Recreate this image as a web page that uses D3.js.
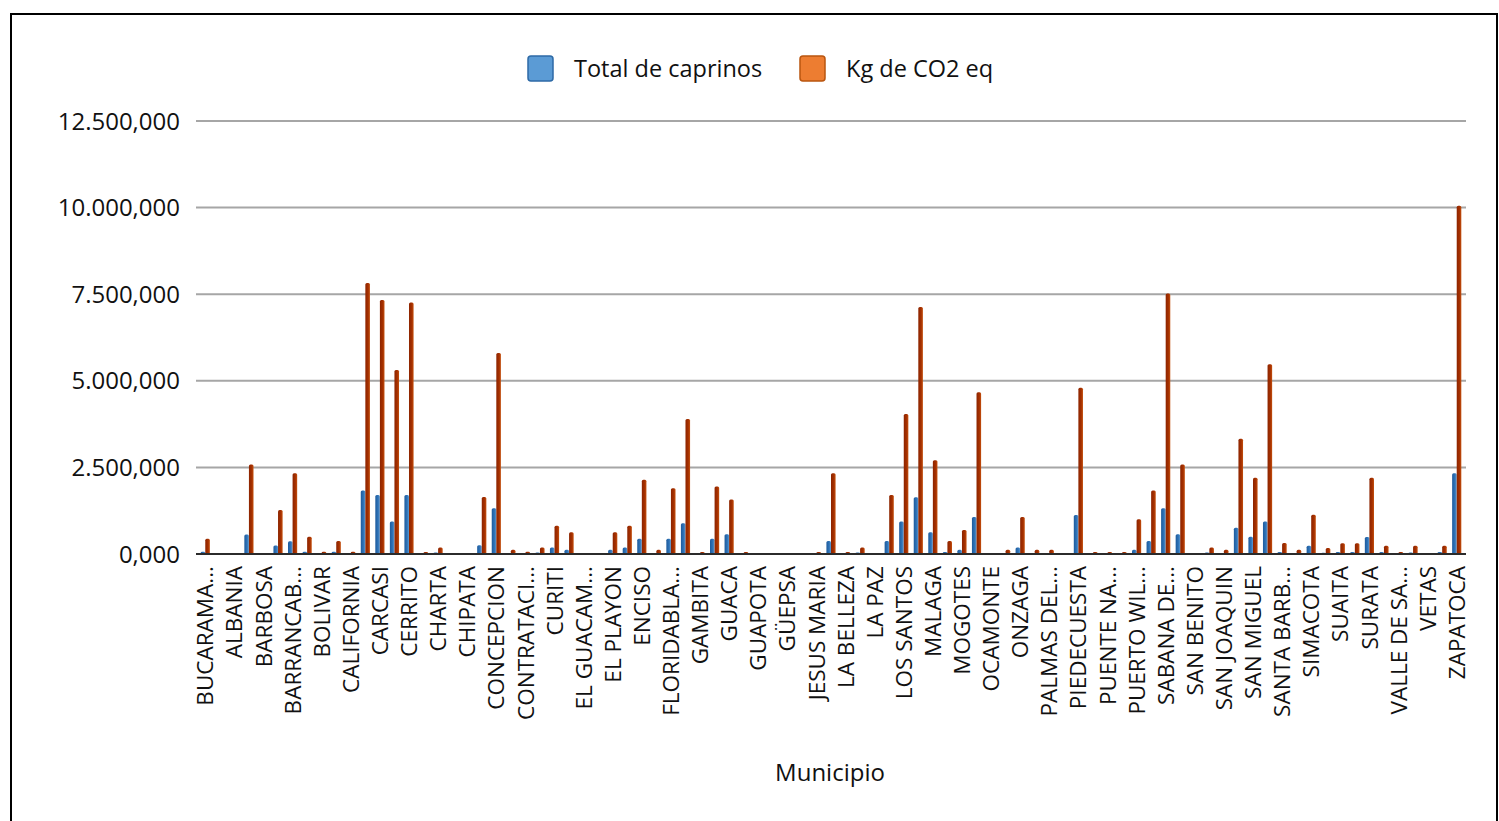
<!DOCTYPE html>
<html lang="es">
<head>
    <meta charset="UTF-8">
    <title>Total de caprinos y Kg de CO2 eq por municipio</title>
    <script src="https://d3js.org/d3.v7.min.js"></script>
    <style>
        body {
            margin: 0;
            background: #fff;
            font-family: "Open Sans", Arial, sans-serif;
        }

        .grid line {
            stroke: #a6a6a6;
            stroke-width: 2;
        }

        .y-label, .x-axis text, .legend text, .axis-title {
            fill: #111;
        }
    </style>
</head>
<body>
    <svg id="chart"></svg>
    <script>
        const categories = [
            "BUCARAMANGA", "AGUADA", "ALBANIA", "ARATOCA", "BARBOSA", "BARICHARA", "BARRANCABERMEJA", "BETULIA",
            "BOLIVAR", "CABRERA", "CALIFORNIA", "CAPITANEJO", "CARCASI", "CEPITA", "CERRITO", "CHARALA",
            "CHARTA", "CHIMA", "CHIPATA", "CIMITARRA", "CONCEPCION", "CONFINES", "CONTRATACION", "COROMORO",
            "CURITI", "EL CARMEN DE CHUCURI", "EL GUACAMAYO", "EL PEÑON", "EL PLAYON", "ENCINO", "ENCISO", "FLORIAN",
            "FLORIDABLANCA", "GALAN", "GAMBITA", "GIRON", "GUACA", "GUADALUPE", "GUAPOTA", "GUAVATA",
            "GÜEPSA", "HATO", "JESUS MARIA", "JORDAN", "LA BELLEZA", "LANDAZURI", "LA PAZ", "LEBRIJA",
            "LOS SANTOS", "MACARAVITA", "MALAGA", "MATANZA", "MOGOTES", "MOLAGAVITA", "OCAMONTE", "OIBA",
            "ONZAGA", "PALMAR", "PALMAS DEL SOCORRO", "PARAMO", "PIEDECUESTA", "PINCHOTE", "PUENTE NACIONAL", "PUERTO PARRA",
            "PUERTO WILCHES", "RIONEGRO", "SABANA DE TORRES", "SAN ANDRES", "SAN BENITO", "SAN GIL", "SAN JOAQUIN", "SAN JOSE DE MIRANDA",
            "SAN MIGUEL", "SAN VICENTE DE CHUCURI", "SANTA BARBARA", "SANTA HELENA DEL OPON", "SIMACOTA", "SOCORRO", "SUAITA", "SUCRE",
            "SURATA", "TONA", "VALLE DE SAN JOSE", "VELEZ", "VETAS", "VILLANUEVA", "ZAPATOCA"
        ];

        // labels shown on the axis (every second municipio)
        const tickLabels = [
            "BUCARAMA...", "ALBANIA", "BARBOSA", "BARRANCAB...", "BOLIVAR", "CALIFORNIA", "CARCASI", "CERRITO",
            "CHARTA", "CHIPATA", "CONCEPCION", "CONTRATACI...", "CURITI", "EL GUACAM...", "EL PLAYON", "ENCISO",
            "FLORIDABLA...", "GAMBITA", "GUACA", "GUAPOTA", "GÜEPSA", "JESUS MARIA", "LA BELLEZA", "LA PAZ",
            "LOS SANTOS", "MALAGA", "MOGOTES", "OCAMONTE", "ONZAGA", "PALMAS DEL...", "PIEDECUESTA", "PUENTE NA...",
            "PUERTO WIL...", "SABANA DE...", "SAN BENITO", "SAN JOAQUIN", "SAN MIGUEL", "SANTA BARB...", "SIMACOTA", "SUAITA",
            "SURATA", "VALLE DE SA...", "VETAS", "ZAPATOCA"
        ];

        const caprinos = [
            67000, 4000, 4000, 562000, 2000, 248000, 371000, 67000,
            12000, 67000, 12000, 1830000, 1700000, 940000, 1700000, 12000,
            40000, 4000, 4000, 250000, 1320000, 25000, 12000, 40000,
            190000, 124000, 2000, 2000, 124000, 190000, 440000, 25000,
            440000, 885000, 12000, 440000, 567000, 12000, 2000, 2000,
            2000, 2000, 12000, 375000, 12000, 40000, 1000, 375000,
            940000, 1640000, 625000, 57000, 124000, 1065000, 1000, 25000,
            190000, 25000, 25000, 1000, 1125000, 12000, 12000, 12000,
            124000, 375000, 1320000, 567000, 0, 40000, 25000, 760000,
            500000, 940000, 57000, 25000, 240000, 35000, 57000, 57000,
            490000, 57000, 12000, 45000, 2000, 57000, 2330000
        ];

        const co2 = [
            440000, 20000, 20000, 2585000, 10000, 1270000, 2330000, 500000,
            67000, 375000, 67000, 7820000, 7330000, 5310000, 7260000, 57000,
            190000, 19000, 19000, 1645000, 5800000, 124000, 67000, 190000,
            818000, 625000, 10000, 10000, 625000, 818000, 2140000, 124000,
            1895000, 3900000, 57000, 1950000, 1575000, 57000, 8000, 8000,
            8000, 8000, 57000, 2330000, 57000, 190000, 5000, 1700000,
            4040000, 7130000, 2710000, 375000, 693000, 4670000, 5000, 124000,
            1067000, 124000, 124000, 5000, 4800000, 57000, 57000, 57000,
            1000000, 1830000, 7520000, 2585000, 0, 190000, 124000, 3330000,
            2200000, 5480000, 317000, 124000, 1130000, 173000, 308000, 308000,
            2200000, 240000, 57000, 240000, 10000, 240000, 10050000
        ];

        const series = ["Total de caprinos", "Kg de CO2 eq"];
        const yTicks = [0, 2500000, 5000000, 7500000, 10000000, 12500000];
        const yTickLabels = ["0,000", "2.500,000", "5.000,000", "7.500,000", "10.000,000", "12.500,000"];

        const W = 1499, H = 821;
        const plot = { left: 196, right: 1466, top: 121, bottom: 554 };

        const svg = d3.select("#chart")
            .attr("width", W)
            .attr("height", H);

        // outer frame
        svg.append("rect")
            .attr("x", 11).attr("y", 14)
            .attr("width", 1486).attr("height", 830)
            .attr("fill", "none")
            .attr("stroke", "#000")
            .attr("stroke-width", 2);

        const defs = svg.append("defs");
        const blueGrad = defs.append("linearGradient").attr("id", "gBlue")
            .attr("x1", "0").attr("x2", "1").attr("y1", "0").attr("y2", "0");
        blueGrad.append("stop").attr("offset", "0%").attr("stop-color", "#1d5a9c");
        blueGrad.append("stop").attr("offset", "60%").attr("stop-color", "#2f74b8");
        blueGrad.append("stop").attr("offset", "100%").attr("stop-color", "#5d9ad3");

        const orangeGrad = defs.append("linearGradient").attr("id", "gOrange")
            .attr("x1", "0").attr("x2", "1").attr("y1", "0").attr("y2", "0");
        orangeGrad.append("stop").attr("offset", "0%").attr("stop-color", "#8c2400");
        orangeGrad.append("stop").attr("offset", "60%").attr("stop-color", "#a53000");
        orangeGrad.append("stop").attr("offset", "100%").attr("stop-color", "#c4500e");

        const x = d3.scaleBand()
            .domain(categories)
            .range([198, 1464])
            .paddingInner(0.37)
            .paddingOuter(0.185);

        const x1 = d3.scaleBand()
            .domain(series)
            .range([0, x.bandwidth()]);

        const y = d3.scaleLinear()
            .domain([0, 12500000])
            .range([plot.bottom, plot.top]);

        // gridlines + y labels
        const grid = svg.append("g").attr("class", "grid");
        grid.selectAll("line")
            .data(yTicks.slice(1))
            .enter()
            .append("line")
            .attr("x1", plot.left)
            .attr("x2", plot.right)
            .attr("y1", d => y(d))
            .attr("y2", d => y(d));

        svg.append("g")
            .selectAll("text")
            .data(yTicks)
            .enter()
            .append("text")
            .attr("class", "y-label")
            .attr("x", 180)
            .attr("y", d => y(d))
            .attr("dy", "0.36em")
            .attr("text-anchor", "end")
            .style("font-size", "24px")
            .text((d, i) => yTickLabels[i]);

        // bars
        const colors = { "Total de caprinos": "url(#gBlue)", "Kg de CO2 eq": "url(#gOrange)" };
        const rows = categories.map((c, i) => ({ name: c, values: [caprinos[i], co2[i]] }));

        const groups = svg.append("g")
            .selectAll("g")
            .data(rows)
            .enter()
            .append("g")
            .attr("transform", d => `translate(${x(d.name)},0)`);

        groups.selectAll("rect")
            .data(d => series.map((s, k) => ({ key: s, value: d.values[k] })))
            .enter()
            .append("rect")
            .attr("x", d => x1(d.key))
            .attr("width", x1.bandwidth())
            .attr("y", d => y(d.value))
            .attr("height", d => y(0) - y(d.value))
            .attr("rx", 1.5)
            .attr("fill", d => colors[d.key]);

        // baseline
        svg.append("line")
            .attr("x1", plot.left).attr("x2", plot.right)
            .attr("y1", y(0)).attr("y2", y(0))
            .attr("stroke", "#2b2b2b")
            .attr("stroke-width", 2);

        // x axis labels
        const xAxis = d3.axisBottom(x)
            .tickValues(categories.filter((d, i) => i % 2 === 0))
            .tickFormat((d) => tickLabels[categories.indexOf(d) / 2])
            .tickSize(0);

        const xg = svg.append("g")
            .attr("class", "x-axis")
            .attr("transform", `translate(0, ${y(0)})`)
            .call(xAxis);
        xg.select(".domain").remove();
        xg.selectAll("text")
            .attr("transform", "rotate(-90)")
            .attr("x", -12)
            .attr("y", 0)
            .attr("dy", "0.36em")
            .attr("text-anchor", "end")
            .style("font-size", "22.5px")
            .style("font-family", "'Open Sans', Arial, sans-serif");

        svg.append("text")
            .attr("class", "axis-title")
            .attr("x", 830)
            .attr("y", 781)
            .attr("text-anchor", "middle")
            .style("font-size", "24px")
            .text("Municipio");

        // legend
        const legendItems = [
            { label: series[0], x: 528, fill: "#5b9bd5", stroke: "#2e6aa6" },
            { label: series[1], x: 800, fill: "#ed7d31", stroke: "#b9550f" }
        ];
        const legend = svg.append("g").attr("class", "legend");
        const li = legend.selectAll("g")
            .data(legendItems)
            .enter()
            .append("g")
            .attr("transform", d => `translate(${d.x}, 56)`);
        li.append("rect")
            .attr("width", 25).attr("height", 25)
            .attr("rx", 3)
            .attr("fill", d => d.fill)
            .attr("stroke", d => d.stroke)
            .attr("stroke-width", 1.5);
        li.append("text")
            .attr("x", 46)
            .attr("y", 12.5)
            .attr("dy", "0.36em")
            .style("font-size", "23.5px")
            .text(d => d.label);
    </script>
</body>
</html>
